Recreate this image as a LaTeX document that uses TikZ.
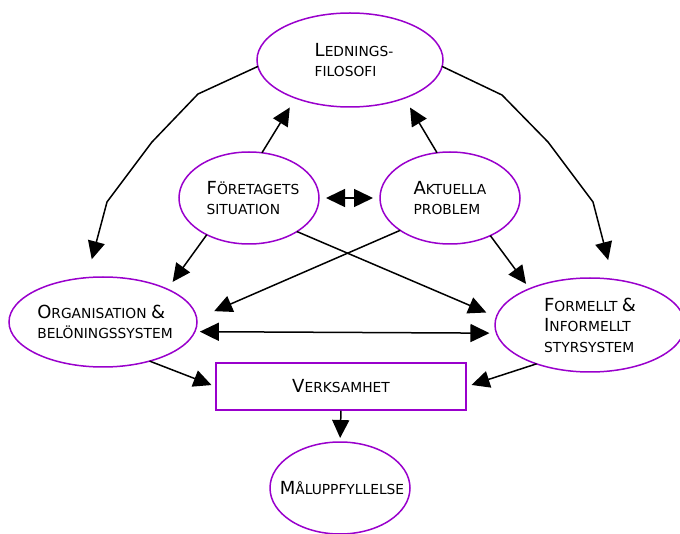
\documentclass[tikz,border=0pt]{standalone}
\usepackage{fontspec}
\setmainfont{DejaVu Sans}
\usetikzlibrary{shapes.geometric,arrows.meta}
\definecolor{purp}{RGB}{153,0,204}
% initial letter of a small-caps word, set at full size
\newcommand\Ini[1]{{\fontsize{18}{20.5}\selectfont #1}}
\begin{document}
\begin{tikzpicture}[x=1pt,y=-1pt,
  oval/.style={ellipse, draw=purp, line width=1.5pt, inner sep=0pt, outer sep=0pt},
  txt/.style={align=left, inner sep=0pt, font=\fontsize{13.8}{20.5}\selectfont},
  arr/.style={-{Triangle[length=18pt,width=17pt]}, line width=1.5pt},
  dbl/.style={{Triangle[length=19pt,width=18pt]}-{Triangle[length=19pt,width=18pt]}, line width=1.5pt}]
\useasboundingbox (0,0) rectangle (680,534);
\clip (0,0) rectangle (680,534);

% boxes
\node[oval, minimum width=186pt, minimum height=94pt,
  label={[txt, xshift=4pt]center:\Ini{L}EDNINGS-\\FILOSOFI}] (L) at (350,60) {};
\node[oval, minimum width=140pt, minimum height=92pt,
  label={[txt, xshift=4pt]center:\Ini{F}ÖRETAGETS\\SITUATION}] (F) at (249,198) {};
\node[oval, minimum width=140pt, minimum height=92pt,
  label={[txt]center:\Ini{A}KTUELLA\\PROBLEM}] (A) at (450,198) {};
\node[oval, minimum width=188pt, minimum height=90pt,
  label={[txt, xshift=2pt]center:\Ini{O}RGANISATION \Ini{\&}\\BELÖNINGSSYSTEM}] (O) at (103,322) {};
\node[oval, minimum width=190pt, minimum height=94pt,
  label={[txt]center:\Ini{F}ORMELLT \Ini{\&}\\\Ini{I}NFORMELLT\\STYRSYSTEM}] (R) at (590,325) {};
\node[draw=purp, line width=1.5pt, minimum width=250pt, minimum height=47pt,
  inner sep=0pt, txt] (V) at (341,386.5) {\Ini{V}ERKSAMHET};
\node[oval, minimum width=140pt, minimum height=92pt,
  label={[txt, xshift=2pt]center:\Ini{M}ÅLUPPFYLLELSE}] (M) at (340,488) {};

% connectors
\draw[arr, shorten >=19pt] (L.184) -- (198,94) -- (152,142) -- (107,202) -- (O.110);
\draw[arr, shorten >=20pt] (L.-4) -- (502,95) -- (548,142) -- (593,202) -- (R.63);
\draw[arr, shorten >=11pt] (F.74) -- (L.215);
\draw[arr, shorten >=11pt] (A.106) -- (L.325);
\draw[dbl, shorten <=7pt, shorten >=7pt] (F.east) -- (A.west);
\draw[arr, shorten >=9pt] (F.221) -- (O.27);
\draw[arr, shorten >=6pt] (A.317) -- (R.149);
\draw[arr, shorten >=11pt] (F.325) -- (R.175);
\draw[arr, shorten >=19pt] (A.213) -- (O.2);
\draw[dbl, shorten <=5pt, shorten >=7pt] (O.-6) -- (R.185);
\draw[arr, shorten >=4pt] (O.320) -- (V.west);
\draw[arr, shorten >=5pt] (R.216) -- (V.east);
\draw[arr, shorten >=4pt] (V.south) -- (M.north);
\end{tikzpicture}
\end{document}
